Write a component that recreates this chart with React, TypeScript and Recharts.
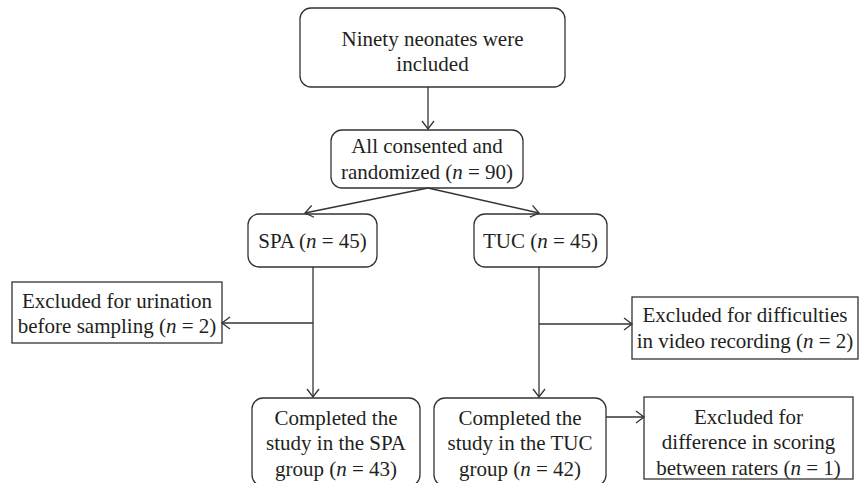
import React from "react";
import { ComposedChart, XAxis, YAxis, Scatter, ReferenceArea, ReferenceLine } from "recharts";

// Flowchart nodes (diagram units: 1 unit = 1 px on an 859 x 483 canvas)
const nodeText: string[][] = [
  ["Ninety neonates were", "included"],
  ["All consented and", "randomized (n = 90)"],
  ["SPA (n = 45)"],
  ["TUC (n = 45)"],
  ["Excluded for urination", "before sampling (n = 2)"],
  ["Excluded for difficulties", "in video recording (n = 2)"],
  ["Completed the", "study in the SPA", "group (n = 43)"],
  ["Completed the", "study in the TUC", "group (n = 42)"],
  ["Excluded for", "difference in scoring", "between raters (n = 1)"],
];
const nodeLeft = [300, 331, 248, 474, 12, 632, 252, 434, 644];
const nodeRight = [565, 523, 377, 607, 222, 858, 420, 606, 853];
const nodeTop = [8, 130, 214, 214, 282, 297, 398, 398, 397];
const nodeBottom = [87, 188, 267, 267, 343, 359, 486, 486, 479];
const nodeRounded = [true, true, true, true, false, false, true, true, false];
const nodeTextShift = [4, 0, 0, 0, 1, 0, 1, 1, 4];

// Connectors (arrow at the "to" end)
const edgeFromX = [428, 428, 428, 313, 313, 539, 539, 606];
const edgeFromY = [87, 188, 188, 267, 323, 267, 324, 417];
const edgeToX = [428, 305, 539, 313, 222, 539, 632, 644];
const edgeToY = [129, 213, 213, 397, 323, 397, 324, 417];

const nodeCenters = nodeText.map((_, i) => ({
  x: (nodeLeft[i] + nodeRight[i]) / 2,
  y: (nodeTop[i] + nodeBottom[i]) / 2 + nodeTextShift[i],
  i,
}));

const INK = "#333333";
const TEXT = "#231f20";
const FONT = "'Liberation Serif', 'Times New Roman', serif";
const LINE_H = 25.5;

function rich(line: string) {
  const parts = line.split(/\b(n)\b/);
  return parts.map((p, k) =>
    p === "n" ? (
      <tspan key={k} fontStyle="italic">n</tspan>
    ) : (
      <tspan key={k}>{p}</tspan>
    )
  );
}

const LabelShape = (props: any) => {
  const { cx, cy, payload } = props;
  const lines = nodeText[payload.i];
  const n = lines.length;
  return (
    <text
      textAnchor="middle"
      fontFamily={FONT}
      fontSize={21}
      fill={TEXT}
      style={{ whiteSpace: "pre" }}
    >
      {lines.map((l, k) => (
        <tspan key={k} x={cx} y={cy + (k - (n - 1) / 2) * LINE_H + 7}>
          {rich(l)}
        </tspan>
      ))}
    </text>
  );
};

const arrowShape = (p: any) => {
  const { x1, y1, x2, y2 } = p;
  const dx = x2 - x1;
  const dy = y2 - y1;
  const len = Math.sqrt(dx * dx + dy * dy) || 1;
  const ux = dx / len;
  const uy = dy / len;
  const L = 8;
  const Wd = 6;
  const bx = x2 - ux * L;
  const by = y2 - uy * L;
  const ax = bx - uy * Wd;
  const ay = by + ux * Wd;
  const cx = bx + uy * Wd;
  const cy = by - ux * Wd;
  return (
    <g>
      <line x1={x1} y1={y1} x2={x2} y2={y2} stroke={INK} strokeWidth={1.3} />
      <polyline
        points={`${ax},${ay} ${x2},${y2} ${cx},${cy}`}
        fill="none"
        stroke={INK}
        strokeWidth={1.3}
      />
    </g>
  );
};

export default function App() {
  return (
    <div style={{ position: "absolute", left: 0, top: 0, width: 859, height: 483, background: "#fff", overflow: "hidden" }}>
      <ComposedChart width={859} height={483} data={nodeCenters} margin={{ top: 0, right: 0, bottom: 0, left: 0 }}>
        <XAxis type="number" dataKey="x" domain={[0, 859]} hide allowDataOverflow />
        <YAxis type="number" dataKey="y" domain={[0, 483]} reversed hide allowDataOverflow />
        {nodeText.map((_, i) => (
          <ReferenceArea
            key={`box-${i}`}
            x1={nodeLeft[i]}
            x2={nodeRight[i]}
            y1={nodeTop[i]}
            y2={nodeBottom[i]}
            ifOverflow="visible"
            shape={(p: any) => (
              <rect
                x={p.x}
                y={p.y}
                width={p.width}
                height={p.height}
                rx={nodeRounded[i] ? 11 : 0}
                ry={nodeRounded[i] ? 11 : 0}
                fill="none"
                stroke={INK}
                strokeWidth={1.3}
              />
            )}
          />
        ))}
        {edgeFromX.map((_, i) => (
          <ReferenceLine
            key={`edge-${i}`}
            ifOverflow="visible"
            segment={[
              { x: edgeFromX[i], y: edgeFromY[i] },
              { x: edgeToX[i], y: edgeToY[i] },
            ]}
            shape={arrowShape}
          />
        ))}
        <Scatter dataKey="y" data={nodeCenters} shape={LabelShape} isAnimationActive={false} />
      </ComposedChart>
    </div>
  );
}
